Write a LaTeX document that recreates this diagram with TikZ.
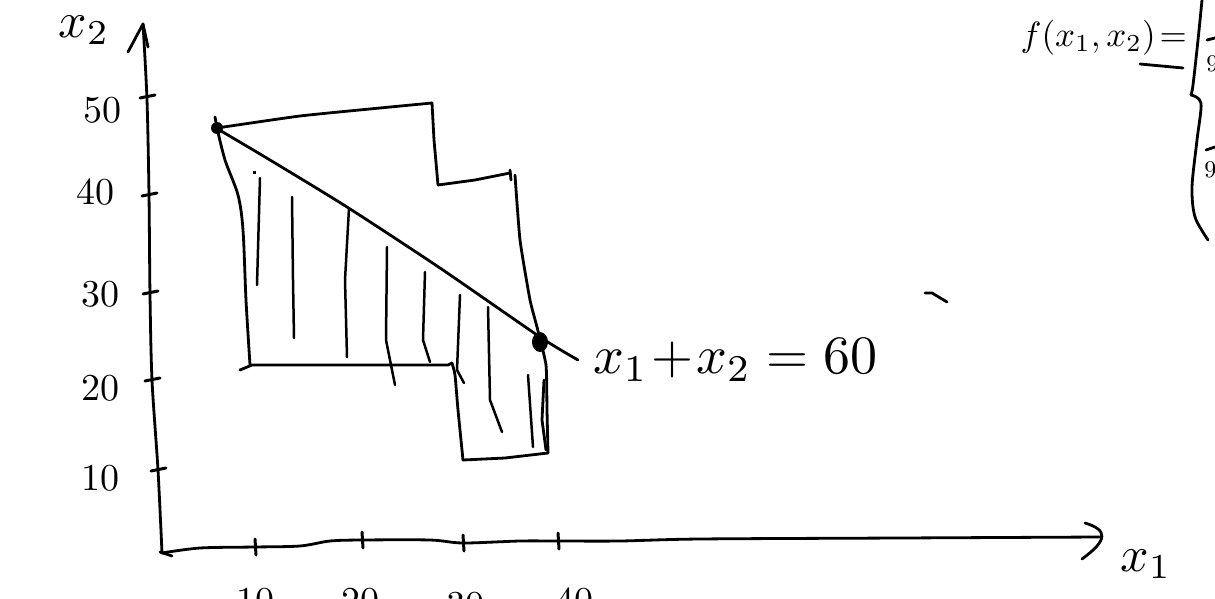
\documentclass[tikz,border=0pt]{standalone}
\begin{document}
\begin{tikzpicture}[x=1pt,y=-1pt,
  ink/.style={line width=2.8pt,line cap=round,line join=round,black},
  hatch/.style={line width=2.5pt,line cap=round,black},
  tick/.style={line width=3pt,line cap=round},
  dig/.style={scale=3.8,inner sep=0pt}]
\useasboundingbox (0,0) rectangle (1215,599);
\clip (0,0) rectangle (1215,599);
\fill[white] (0,0) rectangle (1215,599);

% axes
\coordinate (O) at (162,553);
\coordinate (ytop) at (143,24);
\coordinate (xend) at (1100,537);
\draw[ink] (O) plot[smooth] coordinates {(162,553) (158,470) (152,380) (150,295) (149,195) (147,100) (143,24)};
\draw[ink] (128,52) -- (ytop) -- (148,47);
\draw[ink] plot[smooth] coordinates {(162,553) (200,548) (255,547) (300,546) (330,541) (362,540) (430,540) (463,543) (520,541) (558,541) (620,541) (700,539) (900,538) (1100,537)};
\draw[ink] (160,552) -- (172,556);
\draw[ink] (1085,523) .. controls (1108,530) and (1108,540) .. (1082,559);

% y ticks
\foreach \yy/\xx in {97/147,195/149,293/150,380/152,470/158}
  \draw[tick] (\xx-7,\yy+1) -- (\xx+8,\yy-2);
% x ticks
\foreach \xx/\yy in {255/547,362/540,463/543,558/541}
  \draw[tick] (\xx,\yy-8) -- (\xx+1,\yy+8);

% y labels
\node[dig] (l50) at (102,110) {50};
\node[dig] (l40) at (95,192) {40};
\node[dig] (l30) at (100,294) {30};
\node[dig] (l20) at (100,388) {20};
\node[dig] (l10) at (100,478) {10};
% x labels (cut off at the bottom, as in the sketch)
\node[dig,anchor=north] (m10) at (255,587) {10};
\node[dig,anchor=north] (m20) at (360,587) {20};
\node[dig,anchor=north] (m30) at (465,591) {30};
\node[dig,anchor=north] (m40) at (574,587) {40};

% axis names
\node[scale=5,inner sep=0pt] (nx2) at (84,30) {$x_2$};
\node[scale=5,inner sep=0pt] (nx1) at (1146,564) {$x_1$};

% feasible region outline
\draw[ink] plot[smooth,tension=0.3] coordinates {(217,128) (300,116) (380,108) (432,103)};
\draw[ink] (432,103) -- (434,140) -- (438,185);
\draw[ink] (438,185) -- (475,180) -- (510,173);
\draw[ink] (510,170) -- (511,180);
\draw[ink] plot[smooth,tension=0.3] coordinates {(515,175) (520,240) (530,300) (537,327) (546,365) (547,410) (548,453)};
\draw[ink] (544,380) -- (542,420) -- (546,450);
\draw[ink] (548,453) -- (505,458) -- (463,460);
\draw[ink] plot[smooth,tension=0.3] coordinates {(463,460) (458,410) (455,375) (452,363)};
\draw[ink] (452,363) -- (448,365) -- (350,365) -- (252,365) -- (240,370);
\draw[ink] plot[smooth,tension=0.5] coordinates {(217,128) (225,160) (238,195) (243,230) (246,300) (250,365)};
\draw[ink] (215,117) -- (217,128);

% line x1+x2=60
\draw[ink] plot[smooth,tension=0.4] coordinates {(216,128) (270,160) (347,207) (440,268) (540,337) (578,360)};
\fill (217,128) circle (6pt);
\fill (540,342) ellipse (8pt and 10pt);

% hatching
\draw[hatch] (260,178) -- (257,285);
\draw[hatch] (292,197) -- (293,280) -- (294,338);
\draw[hatch] (349,208) -- (345,280) -- (347,357);
\draw[hatch] (387,247) -- (386,340) -- (395,385);
\draw[hatch] (425,272) -- (423,340) -- (430,362);
\draw[hatch] (460,295) -- (457,370) -- (464,383);
\draw[hatch] (488,307) -- (490,400) -- (502,432);
\draw[hatch] (528,375) -- (533,447);
\fill (253,171) rectangle (256,174);

% equation label
\node[scale=5.4,inner sep=0pt,anchor=west] (eq) at (592,360) {$x_1\!+\!x_2=60$};
\draw[ink] (925,293) -- (932,293) -- (947,302);

% function definition, cut off at the right
\node[scale=3.5,inner sep=0pt,anchor=west] (fdef) at (1020,38) {$f(x_1,x_2)\!=$};
\draw[ink] (1140,64) -- (1183,68);
\draw[ink] plot[smooth,tension=0.5] coordinates {(1202,0) (1198,40) (1193,85) (1191,95)};
\draw[ink] plot[smooth,tension=0.5] coordinates {(1191,95) (1201,103) (1197,140) (1192,187) (1195,217) (1208,240)};
\draw[ink] (1207,40) -- (1215,38);
\draw[ink] (1206,150) -- (1215,147);
\node[scale=2.4,inner sep=0pt,anchor=west] (n9a) at (1206,64) {$9$};
\node[scale=2.4,inner sep=0pt,anchor=west] (n9b) at (1204,170) {$9$};
\end{tikzpicture}
\end{document}
